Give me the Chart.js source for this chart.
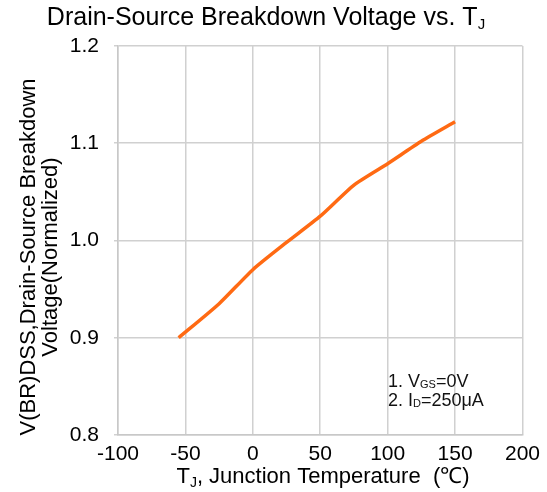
<!DOCTYPE html>
<html><head><meta charset="utf-8">
<script src="https://cdn.jsdelivr.net/npm/chart.js@4/dist/chart.umd.min.js"></script>
<style>html,body{margin:0;padding:0;background:#fff}#wrap{width:547px;height:492px;position:relative}</style>
</head><body><div id="wrap"><canvas id="c" width="547" height="492"></canvas></div>
<script>
const temps = [-55, -25, 0, 25, 50, 75, 100, 125, 150];
const bvdss = [0.900, 0.935, 0.970, 0.998, 1.025, 1.057, 1.079, 1.102, 1.122];
const xTicks = [-100, -50, 0, 50, 100, 150, 200];
const yTicks = [0.8, 0.9, 1.0, 1.1, 1.2];
const FONT = "'Liberation Sans', Arial, sans-serif";

function drawSub(ctx, parts, x, y, align) {
  let w = 0;
  parts.forEach(p => { ctx.font = p[1] + "px " + FONT; w += ctx.measureText(p[0]).width; });
  let cx = align === 'center' ? x - w / 2 : x;
  parts.forEach(p => {
    ctx.font = p[1] + "px " + FONT;
    ctx.textAlign = 'left';
    ctx.fillText(p[0], cx, y + (p[2] || 0));
    cx += ctx.measureText(p[0]).width;
  });
}

const textPlugin = {
  id: 'texts',
  afterDraw(chart) {
    const ctx = chart.ctx;
    ctx.save();
    ctx.fillStyle = '#000';
    ctx.textBaseline = 'alphabetic';
    drawSub(ctx, [["Drain-Source Breakdown Voltage vs. T", 25], ["J", 15, 4]], 266, 25, 'center');
    drawSub(ctx, [["T", 22], ["J", 14, 4], [", Junction Temperature  (\u2103)", 22]], 323, 483, 'center');
    ctx.save();
    ctx.translate(35, 257);
    ctx.rotate(-Math.PI / 2);
    ctx.font = "22px " + FONT;
    ctx.textAlign = 'center';
    ctx.fillText("V(BR)DSS,Drain-Source Breakdown", 0, 0);
    ctx.fillText("Voltage(Normalized)", 0, 22);
    ctx.restore();
    ctx.fillStyle = '#111';
    drawSub(ctx, [["1. V", 18], ["GS", 11, 1], ["=0V", 18]], 388, 387, 'left');
    drawSub(ctx, [["2. I", 18], ["D", 11, 1], ["=250\u03bcA", 18]], 388, 406, 'left');
    ctx.restore();
  }
};

new Chart(document.getElementById('c'), {
  type: 'line',
  data: { datasets: [{
    data: temps.map((t, i) => ({ x: t, y: bvdss[i] })),
    borderColor: '#ff6a13', borderWidth: 3.5, pointRadius: 0, tension: 0.2, fill: false
  }]},
  options: {
    responsive: false, animation: false, devicePixelRatio: 1,
    layout: { padding: { left: 0, top: 46, right: 24, bottom: 0 } },
    plugins: { legend: { display: false }, tooltip: { enabled: false } },
    scales: {
      x: {
        type: 'linear', min: -100, max: 200,
        afterBuildTicks: s => { s.ticks = xTicks.map(v => ({ value: v })); },
        afterFit: s => { s.height = 57; },
        grid: { color: '#d0d0d0', lineWidth: 1.5, drawTicks: false },
        border: { color: '#c8c8c8', width: 1.5 },
        ticks: { padding: 7, color: '#000', font: { size: 21, family: FONT }, maxRotation: 0 }
      },
      y: {
        type: 'linear', min: 0.8, max: 1.2,
        afterBuildTicks: s => { s.ticks = yTicks.map(v => ({ value: v })); },
        afterFit: s => { s.width = 118; },
        grid: { color: '#d0d0d0', lineWidth: 1.5, tickLength: 4 },
        border: { color: '#c8c8c8', width: 1.5 },
        ticks: { padding: 15, color: '#000', font: { size: 21, family: FONT }, callback: v => v.toFixed(1) }
      }
    }
  },
  plugins: [textPlugin]
});
</script></body></html>
